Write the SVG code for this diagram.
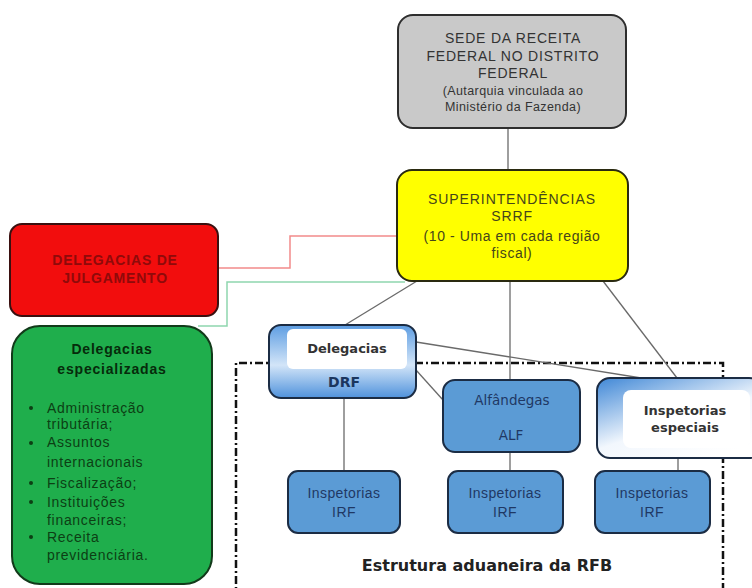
<svg xmlns="http://www.w3.org/2000/svg" width="752" height="588" viewBox="0 0 752 588">
<defs>
<linearGradient id="gDrf" x1="0" y1="0" x2="0" y2="1">
<stop offset="0" stop-color="#5d9de2"/>
<stop offset="0.55" stop-color="#d3e5f8"/>
<stop offset="1" stop-color="#4f92dc"/>
</linearGradient>
<linearGradient id="gEsp" x1="0" y1="0" x2="0.7" y2="1">
<stop offset="0" stop-color="#3f87d6"/>
<stop offset="0.6" stop-color="#f2f7fd"/>
<stop offset="1" stop-color="#ffffff"/>
</linearGradient>
<style>
.conn{stroke:#6a6a6a;stroke-width:1.3;fill:none}
.blue{fill:#5b9bd5;stroke:#1b2c44;stroke-width:2}
.inner{fill:#ffffff;stroke:none}
.t{font-family:"Liberation Sans",Arial,sans-serif;text-anchor:middle}
.v{font-family:"DejaVu Sans",Verdana,sans-serif;text-anchor:middle}
.g{font-family:"Liberation Sans",Arial,sans-serif;fill:#0c3f14;font-size:14px;letter-spacing:0.7px}
</style>
</defs>
<rect width="752" height="588" fill="#ffffff"/>

<g id="frame">
<path d="M236 600 V363 H723 V600" fill="none" stroke="#111" stroke-width="2.5" stroke-dasharray="8 3 2 3"/>
</g>

<g id="connectors">
<line class="conn" x1="508" y1="128" x2="508" y2="170"/>
<line class="conn" x1="510" y1="281" x2="510" y2="380"/>
<line class="conn" x1="417" y1="281" x2="345" y2="325"/>
<line class="conn" x1="603" y1="281" x2="677" y2="378"/>
<line class="conn" x1="416" y1="342" x2="660" y2="381"/>
<line class="conn" x1="416" y1="370" x2="443" y2="400"/>
<line class="conn" x1="344" y1="398" x2="344" y2="471"/>
<line class="conn" x1="510" y1="452" x2="510" y2="471"/>
<line class="conn" x1="678" y1="458" x2="678" y2="471"/>
<path d="M218 268 H290 V236 H397" fill="none" stroke="#f28a8a" stroke-width="1.5"/>
<path d="M405 282 H227 V326 H198" fill="none" stroke="#8ed6ae" stroke-width="1.5"/>
</g>

<g id="sede">
<rect x="398" y="15" width="228" height="113" rx="15" fill="#c9c9c9" stroke="#2e2e2e" stroke-width="2"/>
<text class="t" x="513" y="43" font-size="14" fill="#333" letter-spacing="0.8">SEDE DA RECEITA</text>
<text class="t" x="513" y="61" font-size="14" fill="#333" letter-spacing="0.8">FEDERAL NO DISTRITO</text>
<text class="t" x="513" y="78" font-size="14" fill="#333" letter-spacing="0.8">FEDERAL</text>
<text class="t" x="513" y="95" font-size="12.5" fill="#333" letter-spacing="0.4">(Autarquia vinculada ao</text>
<text class="t" x="513" y="111" font-size="12.5" fill="#333" letter-spacing="0.4">Ministério da Fazenda)</text>
</g>

<g id="superintendencias">
<rect x="397" y="170" width="231" height="111" rx="15" fill="#ffff00" stroke="#2a2a10" stroke-width="2"/>
<text class="t" x="512" y="204" font-size="14" fill="#45451a" letter-spacing="0.9">SUPERINTENDÊNCIAS</text>
<text class="t" x="512" y="221" font-size="14" fill="#45451a" letter-spacing="0.9">SRRF</text>
<text class="t" x="512" y="241" font-size="14" fill="#45451a" letter-spacing="0.6">(10 - Uma em cada região</text>
<text class="t" x="512" y="258" font-size="14" fill="#45451a" letter-spacing="0.6">fiscal)</text>
</g>

<g id="julgamento">
<rect x="10" y="224" width="208" height="92" rx="12" fill="#f20d0d" stroke="#3a1010" stroke-width="2"/>
<text class="t" x="115" y="265" font-size="14" font-weight="bold" fill="#8f0a0a" letter-spacing="0.8">DELEGACIAS DE</text>
<text class="t" x="115" y="283" font-size="14" font-weight="bold" fill="#8f0a0a" letter-spacing="0.8">JULGAMENTO</text>
</g>

<g id="especializadas">
<rect x="12" y="326" width="200" height="258" rx="28" fill="#1fae4c" stroke="#123a1a" stroke-width="2"/>
<text class="t" x="112" y="354" font-size="14" font-weight="bold" fill="#062b0b" letter-spacing="0.8">Delegacias</text>
<text class="t" x="112" y="374" font-size="14" font-weight="bold" fill="#062b0b" letter-spacing="0.8">especializadas</text>
<g fill="#0c3f14">
<circle cx="31" cy="408" r="2"/>
<circle cx="31" cy="443" r="2"/>
<circle cx="31" cy="483" r="2"/>
<circle cx="31" cy="502" r="2"/>
<circle cx="31" cy="537" r="2"/>
</g>
<text class="g" x="47" y="413">Administração</text>
<text class="g" x="47" y="429">tributária;</text>
<text class="g" x="47" y="447">Assuntos</text>
<text class="g" x="47" y="467">internacionais</text>
<text class="g" x="47" y="488">Fiscalização;</text>
<text class="g" x="47" y="507">Instituições</text>
<text class="g" x="47" y="525">financeiras;</text>
<text class="g" x="47" y="542">Receita</text>
<text class="g" x="47" y="560">previdenciária.</text>
</g>

<g id="drf">
<rect x="269" y="325" width="147" height="73" rx="12" fill="url(#gDrf)" stroke="#1b2c44" stroke-width="2"/>
<rect class="inner" x="287" y="329" width="120" height="40" rx="6"/>
<text class="v" x="347" y="353" font-size="13" font-weight="bold" fill="#333">Delegacias</text>
<text class="v" x="344" y="387" font-size="14" font-weight="bold" fill="#1b365e">DRF</text>
</g>

<g id="alf">
<rect class="blue" x="443" y="380" width="137" height="72" rx="12"/>
<text class="v" x="512" y="405" font-size="13.5" fill="#1f3864">Alfândegas</text>
<text class="v" x="511" y="440" font-size="13.5" fill="#1f3864">ALF</text>
</g>

<g id="inspetorias-especiais">
<rect x="597" y="378" width="165" height="80" rx="13" fill="url(#gEsp)" stroke="#1b2c44" stroke-width="2"/>
<rect class="inner" x="623" y="390" width="127" height="58" rx="8"/>
<text class="v" x="685" y="415" font-size="13" font-weight="bold" fill="#333">Inspetorias</text>
<text class="v" x="685" y="432" font-size="13" font-weight="bold" fill="#333">especiais</text>
</g>

<g id="irf1">
<rect class="blue" x="288" y="471" width="112" height="62" rx="10"/>
<text class="t" x="344" y="498" font-size="14" fill="#1f3864" letter-spacing="0.4">Inspetorias</text>
<text class="t" x="344" y="517" font-size="14" fill="#1f3864" letter-spacing="0.4">IRF</text>
</g>
<g id="irf2">
<rect class="blue" x="448" y="471" width="115" height="62" rx="10"/>
<text class="t" x="505" y="498" font-size="14" fill="#1f3864" letter-spacing="0.4">Inspetorias</text>
<text class="t" x="505" y="517" font-size="14" fill="#1f3864" letter-spacing="0.4">IRF</text>
</g>
<g id="irf3">
<rect class="blue" x="595" y="471" width="115" height="62" rx="10"/>
<text class="t" x="652" y="498" font-size="14" fill="#1f3864" letter-spacing="0.4">Inspetorias</text>
<text class="t" x="652" y="517" font-size="14" fill="#1f3864" letter-spacing="0.4">IRF</text>
</g>

<g id="caption">
<text class="v" x="487" y="571" font-size="16" font-weight="bold" fill="#222">Estrutura aduaneira da RFB</text>
</g>
</svg>
